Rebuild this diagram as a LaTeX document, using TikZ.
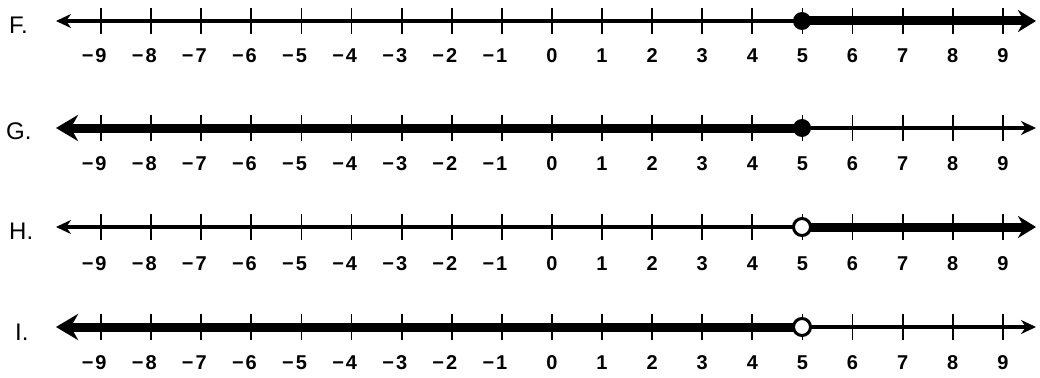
\documentclass[tikz,border=0pt]{standalone}
\usepackage{fontspec}
\setmainfont{Liberation Sans}
\usetikzlibrary{arrows.meta}
\tikzset{
  thinline/.style={line width=4pt},
  thickline/.style={line width=9pt},
  ticksty/.style={line width=1.8pt},
  num/.style={font=\fontsize{20}{20}\selectfont\bfseries, inner sep=0pt, anchor=center},
  lab/.style={font=\fontsize{24}{24}\selectfont, inner sep=0pt, anchor=west},
  dotclosed/.style={circle, fill=black, minimum size=18pt, inner sep=0pt},
  dotopen/.style={circle, draw=black, fill=white, line width=3pt, minimum size=17pt, inner sep=0pt},
  smalltip/.style={-{Stealth[length=15pt,width=14pt]}},
  bigtip/.style={-{Stealth[length=18pt,width=22pt]}},
  smalltipl/.style={{Stealth[length=15pt,width=14pt]}-},
  bigtipl/.style={{Stealth[length=22pt,width=26pt]}-}
}
\begin{document}
\begin{tikzpicture}[x=1pt,y=-1pt]
\useasboundingbox (0,0) rectangle (1040,377);
% ticks and numbers
\foreach \r/\y/\yn in {F/21/56, G/128/164, H/227/264, I/327/363}{
  \coordinate (\r l) at (56,\y);
  \coordinate (\r r) at (1036,\y);
  \coordinate (\r 5) at (802,\y);
  \foreach \n in {-9,...,9}{
    \pgfmathsetmacro{\xx}{551.9+50.1*\n}
    \pgfmathtruncatemacro{\k}{\n+9}
    \draw[ticksty] (\xx,\y-13) -- (\xx,\y+13);
    \ifnum\n<0
      \pgfmathtruncatemacro{\m}{-\n}
      \node[num] (\r n\k) at (\xx,\yn) {\llap{\textminus\kern2pt}\m};
    \else
      \node[num] (\r n\k) at (\xx,\yn) {\n};
    \fi
  }
}
% F
\node[lab] (Flab) at (9,25) {F.};
\draw[thinline,smalltipl] (Fl) -- (F5);
\draw[thickline,bigtip] (F5) -- (Fr);
\node[dotclosed] (Fdot) at (F5) {};
% G
\node[lab] (Glab) at (6,131) {G.};
\draw[thickline,bigtipl] (Gl) -- (G5);
\draw[thinline,smalltip] (G5) -- (Gr);
\node[dotclosed] (Gdot) at (G5) {};
% H
\node[lab] (Hlab) at (9,231) {H.};
\draw[thinline,smalltipl] (Hl) -- (H5);
\draw[thickline,bigtip] (H5) -- (Hr);
\node[dotopen] (Hdot) at (H5) {};
% I
\node[lab] (Ilab) at (15,332) {I.};
\draw[thickline,bigtipl] (Il) -- (I5);
\draw[thinline,smalltip] (I5) -- (Ir);
\node[dotopen] (Idot) at (I5) {};
\end{tikzpicture}
\end{document}
